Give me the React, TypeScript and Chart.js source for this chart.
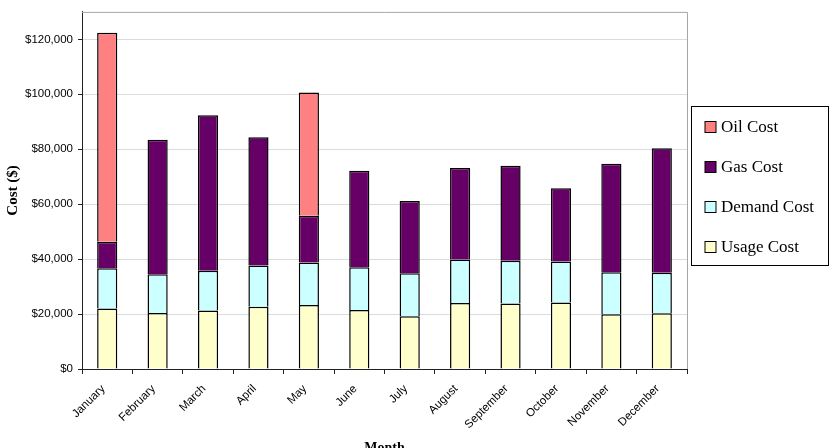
import React, { useEffect, useRef } from "react";
import { Chart, registerables } from "chart.js";

Chart.register(...registerables);

const months = [
  "January", "February", "March", "April", "May", "June",
  "July", "August", "September", "October", "November", "December",
];
const usageCost = [22000, 20400, 21300, 22700, 23300, 21500, 19200, 24000, 23800, 24200, 19900, 20300];
const demandCost = [14700, 14100, 14500, 15000, 15500, 15500, 15700, 15900, 15600, 14900, 15300, 14700];
const gasCost = [9600, 49000, 56600, 46700, 17000, 35200, 26300, 33300, 34600, 26700, 39500, 45400];
const oilCost = [76100, null, null, null, 44900, null, null, null, null, null, null, null];
const yTickValues = [0, 20000, 40000, 60000, 80000, 100000, 120000];
const yMax = 130000;

const SANS = "'Liberation Sans', Arial, sans-serif";
const SERIF = "'Liberation Serif', 'Times New Roman', serif";

// Plot frame (top/right edges) in light grey
const framePlugin = {
  id: "frame",
  beforeDatasetsDraw(chart: any) {
    const { ctx, chartArea } = chart;
    ctx.save();
    ctx.strokeStyle = "#a6a6a6";
    ctx.lineWidth = 1;
    ctx.beginPath();
    ctx.moveTo(chartArea.left, chartArea.top + 0.5);
    ctx.lineTo(chartArea.right + 0.5, chartArea.top + 0.5);
    ctx.lineTo(chartArea.right + 0.5, chartArea.bottom);
    ctx.stroke();
    ctx.restore();
  },
};

// Axis titles
const titlesPlugin = {
  id: "axisTitles",
  afterDraw(chart: any) {
    const { ctx, chartArea } = chart;
    ctx.save();
    ctx.fillStyle = "#000";
    ctx.font = `bold 15px ${SERIF}`;
    ctx.textAlign = "center";
    ctx.textBaseline = "middle";
    ctx.translate(13, (chartArea.top + chartArea.bottom) / 2);
    ctx.rotate(-Math.PI / 2);
    ctx.fillText("Cost ($)", 0, 0);
    ctx.restore();

    ctx.save();
    ctx.fillStyle = "#000";
    ctx.font = `bold 14px ${SERIF}`;
    ctx.textAlign = "center";
    ctx.textBaseline = "middle";
    ctx.fillText("Month", (chartArea.left + chartArea.right) / 2, 448);
    ctx.restore();
  },
};

// Boxed legend to the right of the plot, top series first
const boxLegendPlugin = {
  id: "boxLegend",
  afterDraw(chart: any) {
    const { ctx, chartArea } = chart;
    const x = chartArea.right + 4.5;
    const y = 106.5;
    const w = 137;
    const h = 159;
    ctx.save();
    ctx.fillStyle = "#fff";
    ctx.fillRect(x, y, w, h);
    ctx.strokeStyle = "#000";
    ctx.lineWidth = 1;
    ctx.strokeRect(x, y, w, h);
    const sets = [...chart.data.datasets].reverse();
    ctx.font = `17px ${SERIF}`;
    ctx.textBaseline = "middle";
    ctx.textAlign = "left";
    sets.forEach((ds: any, i: number) => {
      const cy = 127 + i * 40;
      ctx.fillStyle = ds.backgroundColor;
      ctx.fillRect(x + 13.5, cy - 5.5, 11, 11);
      ctx.strokeStyle = "#000";
      ctx.strokeRect(x + 13.5, cy - 5.5, 11, 11);
      ctx.fillStyle = "#000";
      ctx.fillText(ds.label, x + 29.5, cy + 1);
    });
    ctx.restore();
  },
};

export default function App() {
  const canvasRef = useRef<HTMLCanvasElement | null>(null);

  useEffect(() => {
    if (!canvasRef.current) return;
    const common = {
      borderColor: "#000",
      borderWidth: 1.5,
      barPercentage: 0.4,
      categoryPercentage: 1,
    };
    const chart = new Chart(canvasRef.current, {
      type: "bar",
      data: {
        labels: months,
        datasets: [
          { label: "Usage Cost", data: usageCost, backgroundColor: "#FFFFCC", ...common },
          { label: "Demand Cost", data: demandCost, backgroundColor: "#CCFFFF", ...common },
          { label: "Gas Cost", data: gasCost, backgroundColor: "#660066", ...common },
          { label: "Oil Cost", data: oilCost, backgroundColor: "#FF8080", ...common },
        ],
      },
      options: {
        animation: false,
        responsive: false,
        devicePixelRatio: 1,
        layout: { padding: { left: 0, top: 10, right: 151, bottom: 0 } },
        plugins: {
          legend: { display: false },
          tooltip: { enabled: false },
        },
        scales: {
          x: {
            stacked: true,
            offset: true,
            grid: {
              offset: true,
              drawOnChartArea: false,
              drawTicks: true,
              tickLength: 5,
              tickColor: "#222",
            },
            border: { color: "#222", width: 1 },
            ticks: {
              minRotation: 45,
              maxRotation: 45,
              autoSkip: false,
              padding: 8,
              labelOffset: -4,
              color: "#000",
              font: { family: SANS, size: 11.5 },
            },
            afterFit(scale: any) {
              scale.height = 79;
            },
          },
          y: {
            stacked: true,
            min: 0,
            max: yMax,
            grid: {
              color: "#dcdcdc",
              tickColor: "#222",
              tickLength: 4,
            },
            border: { color: "#222", width: 1 },
            ticks: {
              autoSkip: false,
              padding: 5,
              color: "#000",
              font: { family: SANS, size: 11.5 },
              callback: (v: any) => "$" + Number(v).toLocaleString("en-US"),
            },
            afterBuildTicks(scale: any) {
              scale.ticks = yTickValues.map((value) => ({ value }));
            },
            afterFit(scale: any) {
              scale.width = 82;
            },
          },
        },
      },
      plugins: [framePlugin, titlesPlugin, boxLegendPlugin],
    } as any);
    return () => chart.destroy();
  }, []);

  return (
    <div style={{ position: "fixed", left: 0, top: 0, width: 838, height: 448, background: "#fff" }}>
      <canvas ref={canvasRef} width={838} height={448} style={{ display: "block" }} />
    </div>
  );
}
